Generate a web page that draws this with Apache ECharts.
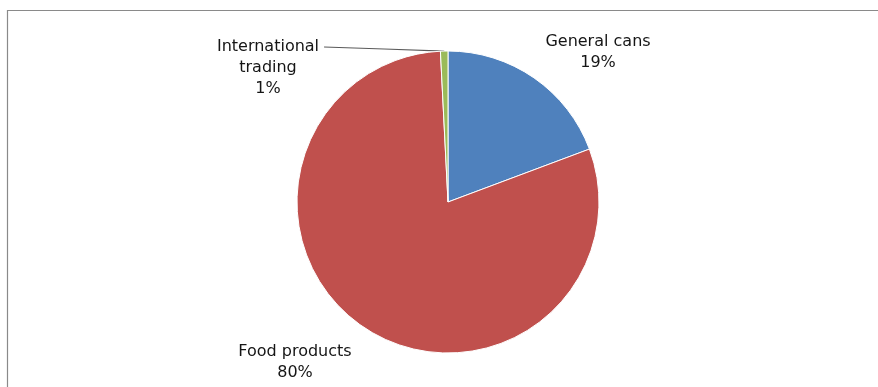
<!DOCTYPE html>
<html>
<head>
<meta charset="utf-8">
<script src="https://cdn.jsdelivr.net/npm/echarts@6/dist/echarts.min.js"></script>
<style>html,body{margin:0;padding:0;background:#fff}#c{width:878px;height:387px}</style>
</head>
<body>
<div id="c"></div>
<script>
var categories = ['General cans', 'Food products', 'International\ntrading'];
var values = [19.3, 79.9, 0.8];
var colors = ['#4F81BD', '#C0504D', '#9BBB59'];
var labelPos = [[598, 31], [295, 341], [268, 36]];

var CX = 448, CY = 202, R = 151;
var total = values.reduce(function (a, b) { return a + b; }, 0);

var chart = echarts.init(document.getElementById('c'), null, {renderer: 'canvas'});
chart.setOption({
  backgroundColor: '#fff',
  animation: false,
  graphic: [{
    type: 'rect',
    shape: {x: 7.5, y: 10.5, width: 900, height: 400},
    style: {fill: 'none', stroke: '#8a8a8a', lineWidth: 1.2},
    silent: true
  }],
  series: [{
    type: 'pie',
    center: [CX, CY],
    radius: R,
    startAngle: 90,
    clockwise: true,
    itemStyle: {borderColor: '#fff', borderWidth: 1},
    data: categories.map(function (n, i) {
      return {name: n, value: values[i], itemStyle: {color: colors[i]},
        labelLine: {show: i === 2}};
    }),
    label: {
      show: true,
      position: 'outside',
      formatter: function (p) { return p.name + '\n' + Math.round(p.percent) + '%'; },
      fontFamily: 'DejaVu Sans',
      fontSize: 16,
      lineHeight: 21,
      color: '#151515',
      align: 'center'
    },
    labelLine: {show: true, length: 5, length2: 5, lineStyle: {color: '#5a5a5a', width: 1.2}},
    labelLayout: function (p) {
      var pos = labelPos[p.dataIndex];
      var out = {x: pos[0], y: pos[1], align: 'center', verticalAlign: 'top'};
      if (p.dataIndex === 2) {
        // green slice sits just left of 12 o'clock; line from its outer edge to label
        var mid = 90 + (values[2] / 2) / total * 360;
        var a = mid * Math.PI / 180;
        var sx = CX + R * Math.cos(a), sy = CY - R * Math.sin(a);
        var ex = pos[0] + p.labelRect.width / 2 + 5, ey = pos[1] + 11;
        out.labelLinePoints = [[sx, sy], [(sx + ex) / 2, (sy + ey) / 2], [ex, ey]];
      }
      return out;
    }
  }]
});
</script>
</body>
</html>
